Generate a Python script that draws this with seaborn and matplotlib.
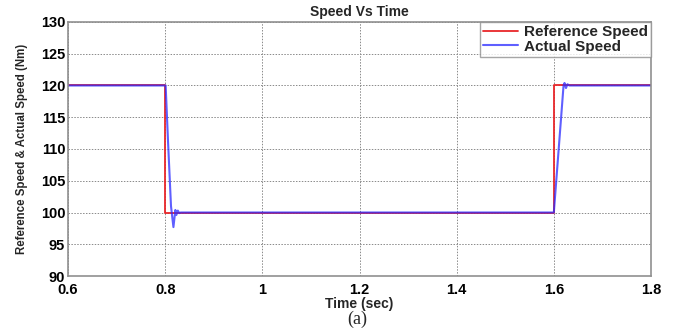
import matplotlib
matplotlib.use("Agg")
import matplotlib.pyplot as plt
import matplotlib.ticker as mticker
import seaborn as sns
import pandas as pd

# Reference speed profile (step changes)
ref_time = [0.6, 0.8, 0.8, 1.6, 1.6, 1.8]
ref_speed = [120, 120, 100, 100, 120, 120]

# Measured motor speed
act_time = [0.6, 0.801, 0.806, 0.812, 0.817, 0.821, 0.823, 0.826, 0.829, 0.832,
            1.6, 1.604, 1.612, 1.620, 1.622, 1.625, 1.628, 1.632, 1.8]
act_speed = [120, 120, 111, 101, 97.7, 100.4, 99.6, 100.3, 99.9, 100,
             100, 104, 112, 120, 120.4, 119.6, 120.2, 120, 120]

x_ticks = [0.6, 0.8, 1.0, 1.2, 1.4, 1.6, 1.8]
y_ticks = [90, 95, 100, 105, 110, 115, 120, 125, 130]

sns.set_theme(style="white")
plt.rcParams["font.family"] = ["Liberation Sans", "DejaVu Sans"]
plt.rcParams["font.weight"] = "bold"

ref_df = pd.DataFrame({"t": ref_time, "v": ref_speed})
act_df = pd.DataFrame({"t": act_time, "v": act_speed})

fig = plt.figure(figsize=(6.8, 3.31), dpi=100)
ax = fig.add_axes([68 / 680, 1 - 276 / 331, (651 - 68) / 680, (276 - 22) / 331])

sns.lineplot(data=ref_df, x="t", y="v", ax=ax, color="#e8262a", lw=1.3,
             sort=False, estimator=None, label="Reference Speed")
sns.lineplot(data=act_df, x="t", y="v", ax=ax, color="#2a2aff", lw=1.5, alpha=0.75,
             sort=False, estimator=None, label="Actual Speed")

ax.set_xlim(0.6, 1.8)
ax.set_ylim(90, 130)
ax.set_xticks(x_ticks)
ax.set_yticks(y_ticks)
ax.xaxis.set_major_formatter(mticker.FormatStrFormatter("%g"))
ax.grid(True, color="#8a8a8a", linestyle=(0, (1.5, 1.5)), lw=0.7)
ax.tick_params(axis="both", direction="in", length=3, labelsize=10.5,
               colors="#222222", labelcolor="black")
ax.tick_params(axis="x", pad=5)
ax.tick_params(axis="y", pad=2)
for lbl in ax.get_xticklabels() + ax.get_yticklabels():
    lbl.set_fontweight("bold")
for sp in ax.spines.values():
    sp.set_color("#909090")
    sp.set_linewidth(1.2)

ax.set_title("Speed Vs Time", fontsize=10, fontweight="bold", pad=4)
ax.set_xlabel("Time (sec)", fontsize=10, fontweight="bold", labelpad=0)
ax.set_ylabel("Reference Speed & Actual Speed (Nm)", fontsize=8.3,
              fontweight="bold", labelpad=9)

leg = ax.legend(loc="upper right", fontsize=11, frameon=True, fancybox=False,
                borderpad=0.2, handlelength=2.3, handletextpad=0.4,
                labelspacing=0.05, borderaxespad=0)
leg.get_frame().set_edgecolor("#909090")
leg.get_frame().set_linewidth(1.0)
for t in leg.get_texts():
    t.set_fontweight("bold")

fig.text(357 / 680, 1 - 319 / 331, "(a)", fontsize=13, ha="center", va="center",
         family=["Liberation Serif", "DejaVu Serif"], fontweight="normal")

fig.savefig("out.png", dpi=100, facecolor="white")
